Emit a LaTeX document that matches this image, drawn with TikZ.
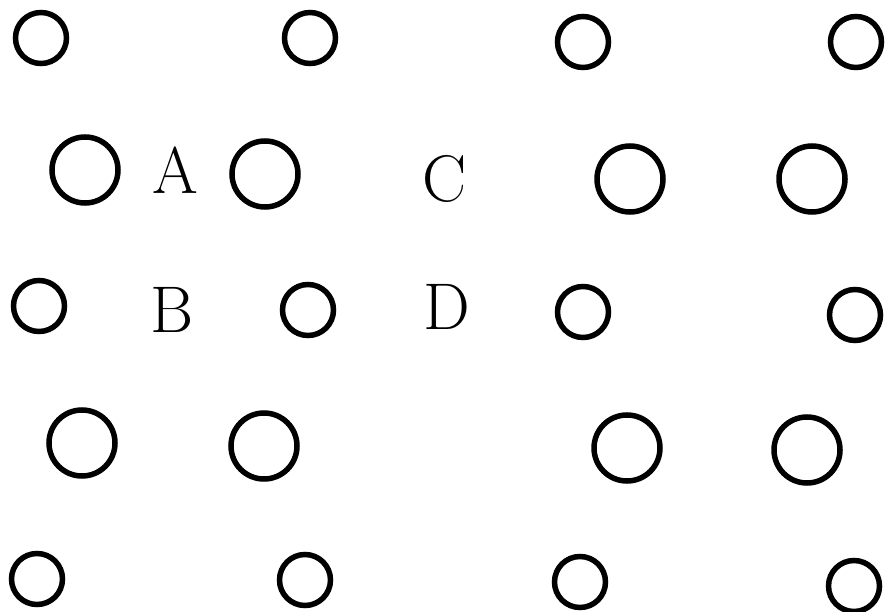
\documentclass[tikz,border=0pt]{standalone}
\begin{document}
\begin{tikzpicture}[x=1pt,y=-1pt,
  ring/.style={circle, draw=black, line width=5.5pt, inner sep=0pt},
  smallring/.style={ring, minimum size=51pt},
  bigring/.style={ring, minimum size=66pt},
  letter/.style={inner sep=0pt, font=\fontsize{66}{72}\selectfont}]
\useasboundingbox (0,0) rectangle (886,612);
% row 1
\node[smallring] (r1a) at (41,38) {};
\node[smallring] (r1b) at (310,38) {};
\node[smallring] (r1c) at (583,42) {};
\node[smallring] (r1d) at (856,42) {};
% row 2
\node[bigring] (r2a) at (85,170) {};
\node[bigring] (r2b) at (265,174) {};
\node[bigring] (r2c) at (630,179) {};
\node[bigring] (r2d) at (812,179) {};
\node[letter] (A) at (175,170) {A};
\node[letter] (C) at (445,179) {C};
% row 3
\node[smallring] (r3a) at (39,306) {};
\node[smallring] (r3b) at (308,310) {};
\node[smallring] (r3c) at (583,312) {};
\node[smallring] (r3d) at (855,315) {};
\node[letter] (B) at (172,310) {B};
\node[letter] (D) at (447,307) {D};
% row 4
\node[bigring] (r4a) at (82,443) {};
\node[bigring] (r4b) at (264,446) {};
\node[bigring] (r4c) at (627,448) {};
\node[bigring] (r4d) at (807,450) {};
% row 5
\node[smallring] (r5a) at (37,579) {};
\node[smallring] (r5b) at (305,580) {};
\node[smallring] (r5c) at (580,582) {};
\node[smallring] (r5d) at (854,586) {};
\end{tikzpicture}
\end{document}
